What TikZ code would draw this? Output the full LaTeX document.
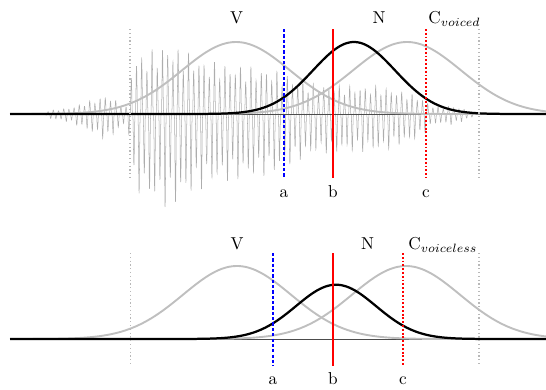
\documentclass[tikz,border=0pt]{standalone}
\usepackage{tikz}
\usetikzlibrary{arrows.meta, positioning}
\tikzset{
  hump/.style={black!25, line width=1.1pt},
  nasal/.style={black, line width=1.3pt},
  wave/.style={black!32, line width=0.3pt},
  axisline/.style={black!70, line width=0.4pt},
  edgeline/.style={black!28, line width=0.7pt, dash pattern=on 0.7pt off 1.5pt},
  cuta/.style={blue, line width=1.1pt, dash pattern=on 1.9pt off 1.2pt},
  cutb/.style={red, line width=1.2pt},
  cutc/.style={red, line width=1.2pt, dash pattern=on 1.1pt off 1.1pt},
  lbl/.style={inner sep=0pt, anchor=base},
}

\begin{document}
\begin{tikzpicture}[x=0.58pt, y=-0.58pt,
    declare function={spk(\t)=ifthenelse(sin(\t)>0,0.85,1.15)*sin(\t)*sin(\t)*sin(\t);}]
  \useasboundingbox (0,0) rectangle (546,389);

  % Top panel: waveform
  \foreach \xa/\xb/\aa/\ab in {46/70/3/6, 70/107/6/19, 107/128/19/6, 128/132/6/55,
      132/168/55/70, 168/207/70/52, 207/273/52/44, 273/313/44/29, 313/383/29/27,
      383/418/27/18, 418/435/18/7, 435/453/7/8, 453/474/8/2} {
    \pgfmathtruncatemacro\ns{6*(\xb-\xa)+2}
    \draw[wave] plot[domain=\xa:\xb, samples=\ns]
      (\x, {114-(\aa+(\ab-\aa)*(\x-\xa)/(\xb-\xa))*(1+0.2*sin(\x*29))
        *spk(mod(\x,5.2)*69.2308)});
  }
  \draw[axisline] (10,114) -- (546,114);

  % Top panel: gestures
  \draw[hump] plot[domain=10:546, samples=160] (\x, {114-72*exp(-0.5*((\x-236)/54)^2)});
  \draw[hump] plot[domain=10:546, samples=160] (\x, {114-72*exp(-0.5*((\x-407)/54)^2)});
  \draw[nasal] plot[domain=10:546, samples=200] (\x, {114-72*exp(-0.5*((\x-354)/41)^2)});

  % Top panel: time points
  \draw[edgeline] (130,29) -- (130,178);
  \draw[edgeline] (479,29) -- (479,178);
  \draw[cuta] (284,29) -- (284,178);
  \draw[cutb] (333,29) -- (333,178);
  \draw[cutc] (426,29) -- (426,178);

  \node[lbl] (vTop) at (236.5,23.5) {V};
  \node[lbl] (nTop) at (379,23.5) {N};
  \node[lbl, anchor=base west] (cTop) at (428,23.5) {C$_{voiced}$};
  \node[lbl] (aTop) at (284,197) {a};
  \node[lbl] (bTop) at (333,197) {b};
  \node[lbl] (cutTop) at (426,197) {c};

  % Bottom panel: gestures
  \draw[axisline] (10,339) -- (546,339);
  \draw[hump] plot[domain=10:546, samples=160] (\x, {339-73*exp(-0.5*((\x-237)/54)^2)});
  \draw[hump] plot[domain=10:546, samples=160] (\x, {339-73*exp(-0.5*((\x-406)/54)^2)});
  \draw[nasal] plot[domain=10:546, samples=200] (\x, {339-54.3*exp(-0.5*((\x-336)/40)^2)});

  % Bottom panel: time points
  \draw[edgeline] (130.6,253) -- (130.6,366);
  \draw[edgeline] (479,253) -- (479,366);
  \draw[cuta] (273,253) -- (273,366);
  \draw[cutb] (333,253) -- (333,366);
  \draw[cutc] (403,253) -- (403,366);

  \node[lbl] (vBot) at (237,249.5) {V};
  \node[lbl] (nBot) at (367.6,249.5) {N};
  \node[lbl, anchor=base west] (cBot) at (408,249.5) {C$_{voiceless}$};
  \node[lbl] (aBot) at (273,384) {a};
  \node[lbl] (bBot) at (333,384) {b};
  \node[lbl] (cutBot) at (403,384) {c};
\end{tikzpicture}
\end{document}
